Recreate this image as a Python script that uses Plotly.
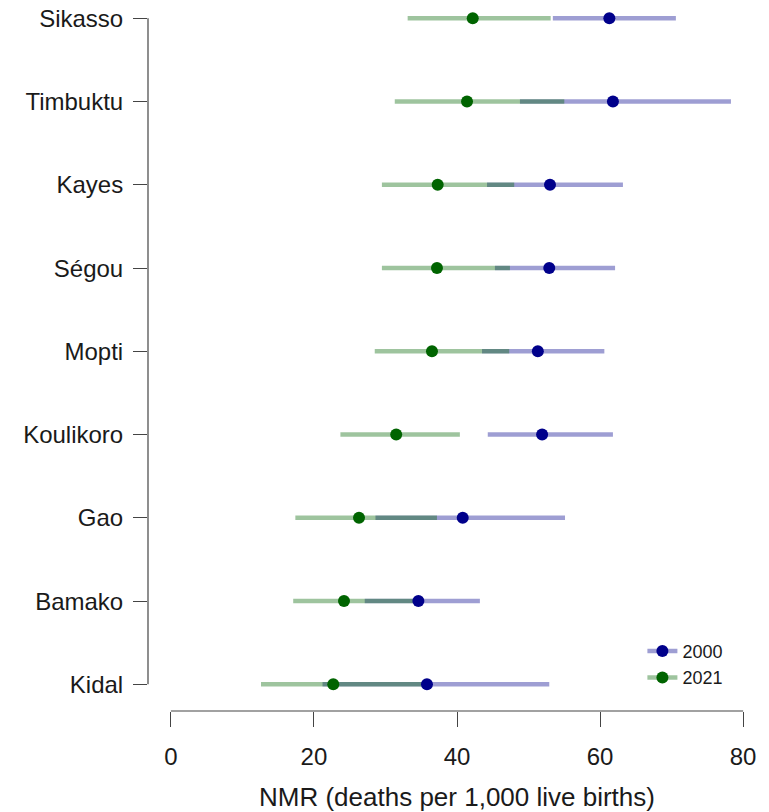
import plotly.graph_objects as go

# ── Data (NMR per 1,000 live births, with uncertainty interval) ───────────────
regions = ["Kidal", "Bamako", "Gao", "Koulikoro", "Mopti",
           "Ségou", "Kayes", "Timbuktu", "Sikasso"]

nmr_2000 = [35.8, 34.6, 40.8, 51.9, 51.3, 52.9, 53.0, 61.8, 61.3]
lo_2000 = [21.2, 27.1, 28.6, 44.3, 43.5, 45.3, 44.2, 48.8, 53.4]
hi_2000 = [52.9, 43.2, 55.1, 61.8, 60.6, 62.1, 63.2, 78.3, 70.6]

nmr_2021 = [22.7, 24.2, 26.3, 31.5, 36.5, 37.2, 37.3, 41.4, 42.2]
lo_2021 = [12.6, 17.1, 17.4, 23.7, 28.5, 29.5, 29.5, 31.3, 33.1]
hi_2021 = [35.1, 33.9, 37.2, 40.4, 47.3, 47.4, 48.0, 55.0, 53.1]

x_ticks = [0, 20, 40, 60, 80]

FONT = "Liberation Sans, Arial, sans-serif"
BLUE, BLUE_LINE = "#00008b", "rgba(0,0,139,0.38)"
GREEN, GREEN_LINE = "#006400", "rgba(0,100,0,0.38)"

pos = list(range(1, len(regions) + 1))


def segments(lo, hi):
    xs, ys = [], []
    for y, a, b in zip(pos, lo, hi):
        xs += [a, b, None]
        ys += [y, y, None]
    return xs, ys


fig = go.Figure()

# interval bars: 2000 first, 2021 on top
for lo, hi, col in [(lo_2000, hi_2000, BLUE_LINE), (lo_2021, hi_2021, GREEN_LINE)]:
    xs, ys = segments(lo, hi)
    fig.add_trace(go.Scatter(x=xs, y=ys, mode="lines", showlegend=False,
                             line=dict(color=col, width=4.5), hoverinfo="skip"))

# point estimates
for vals, col, name in [(nmr_2021, GREEN, "2021"), (nmr_2000, BLUE, "2000")]:
    fig.add_trace(go.Scatter(x=vals, y=pos, mode="markers", name=name,
                             showlegend=False,
                             marker=dict(color=col, size=12)))

# legend entries (line + dot)
for name, col, lcol in [("2000", BLUE, BLUE_LINE), ("2021", GREEN, GREEN_LINE)]:
    fig.add_trace(go.Scatter(x=[None], y=[None], mode="lines+markers", name=name,
                             line=dict(color=lcol, width=4.5),
                             marker=dict(color=col, size=12)))

# R-style axis lines spanning only the tick range
fig.add_shape(type="line", xref="paper", yref="y", x0=0, x1=0, y0=1, y1=9,
              line=dict(color="#444", width=1.2))
fig.add_shape(type="line", xref="x", yref="paper", x0=0, x1=80, y0=0, y1=0,
              line=dict(color="#444", width=1.2))

fig.update_layout(
    width=769, height=812,
    margin=dict(l=148, r=3, t=0, b=101, autoexpand=False),
    paper_bgcolor="white", plot_bgcolor="white",
    font=dict(family=FONT, size=24, color="#1a1a1a"),
    xaxis=dict(range=[-3.2, 83.2], tickvals=x_ticks, showgrid=False,
               zeroline=False, showline=False, ticks="outside", ticklen=15,
               tickcolor="#444", tickwidth=1.2, ticklabelstandoff=9,
               automargin=False,
               title=dict(text="NMR (deaths per 1,000 live births)",
                          font=dict(size=26), standoff=23)),
    yaxis=dict(range=[0.68, 9.2205], tickvals=pos, ticktext=regions,
               showgrid=False, zeroline=False, showline=False,
               ticks="outside", ticklen=14, tickcolor="#444", tickwidth=1.2,
               ticklabelstandoff=5, automargin=False),
    legend=dict(x=0.8, xanchor="left", y=0.11, yanchor="top",
                font=dict(size=18), bgcolor="rgba(0,0,0,0)",
                itemwidth=30, tracegroupgap=0),
)

# drop the default page margin so the figure sits at the window's corner
fig.write_html("out.html", config={"displayModeBar": False},
               post_script="document.body.style.margin='0';")
